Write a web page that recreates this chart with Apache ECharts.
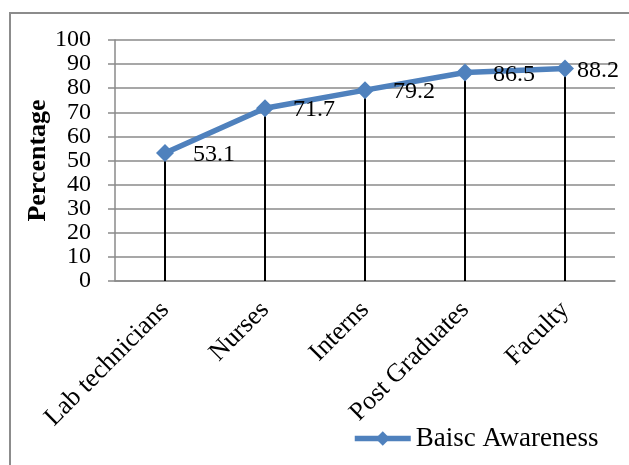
<!DOCTYPE html>
<html>
<head>
<meta charset="utf-8">
<style>
  html, body { margin: 0; padding: 0; background: #fff; }
  #chart { width: 629px; height: 465px; }
</style>
<script src="https://cdn.jsdelivr.net/npm/echarts@6/dist/echarts.min.js"></script>
</head>
<body>
<div id="chart"></div>
<script>
// Staff groups and their basic awareness scores (%)
const categories = ['Lab technicians', 'Nurses', 'Interns', 'Post Graduates', 'Faculty'];
const awareness = [53.1, 71.7, 79.2, 86.5, 88.2];
const seriesName = 'Baisc Awareness';
const yTicks = { min: 0, max: 100, interval: 10 };

const serif = '"Liberation Serif", "Times New Roman", serif';
const gridGray = '#8a8a8a';
const lineBlue = '#4F81BD';

// the last label sits closer to its point so it stays inside the frame
const lineData = awareness.map((v, i) =>
  i === awareness.length - 1 ? { value: v, label: { distance: 3 } } : v
);

const chart = echarts.init(document.getElementById('chart'), null, { renderer: 'canvas' });

chart.setOption({
  animation: false,
  backgroundColor: '#fff',
  graphic: [{
    type: 'rect',
    shape: { x: 10, y: 13, width: 660, height: 500 },
    style: { fill: 'none', stroke: '#8c8c8c', lineWidth: 2 },
    silent: true
  }],
  grid: { left: 115, right: 14, top: 40, bottom: 184, containLabel: false },
  legend: {
    data: [seriesName],
    left: 352,
    top: 425,
    padding: 0,
    itemWidth: 56,
    itemHeight: 18,
    lineStyle: { width: 5.5 },
    textStyle: { fontFamily: serif, fontSize: 27, color: '#000' }
  },
  xAxis: {
    type: 'category',
    data: categories,
    boundaryGap: true,
    axisLine: { lineStyle: { color: gridGray, width: 1.5 } },
    axisTick: { show: false },
    axisLabel: {
      rotate: 45,
      margin: 25,
      fontFamily: serif,
      fontSize: 26,
      color: '#000',
      interval: 0
    }
  },
  yAxis: {
    type: 'value',
    min: yTicks.min,
    max: yTicks.max,
    interval: yTicks.interval,
    name: 'Percentage',
    nameLocation: 'middle',
    nameRotate: 90,
    nameGap: 64,
    nameMoveOverlap: false,
    nameTextStyle: { fontFamily: serif, fontSize: 26, fontWeight: 'bold', color: '#000' },
    axisLine: { show: true, lineStyle: { color: gridGray, width: 1.5 } },
    axisTick: { show: true, inside: false, length: 7, lineStyle: { color: gridGray, width: 1.5 } },
    splitLine: { show: true, lineStyle: { color: gridGray, width: 1.5 } },
    axisLabel: {
      margin: 24,
      fontFamily: serif,
      fontSize: 24,
      color: '#000'
    }
  },
  series: [
    {
      // drop lines from each point down to the category axis
      name: 'drop',
      type: 'bar',
      data: awareness,
      barWidth: 2,
      itemStyle: { color: '#000' },
      silent: true,
      z: 1
    },
    {
      name: seriesName,
      type: 'line',
      data: lineData,
      symbol: 'diamond',
      symbolSize: 18,
      lineStyle: { color: lineBlue, width: 5.5 },
      itemStyle: { color: lineBlue },
      label: {
        show: true,
        position: 'right',
        distance: 19,
        offset: [0, 2],
        fontFamily: serif,
        fontSize: 24,
        color: '#000'
      },
      z: 3
    }
  ]
});
</script>
</body>
</html>
